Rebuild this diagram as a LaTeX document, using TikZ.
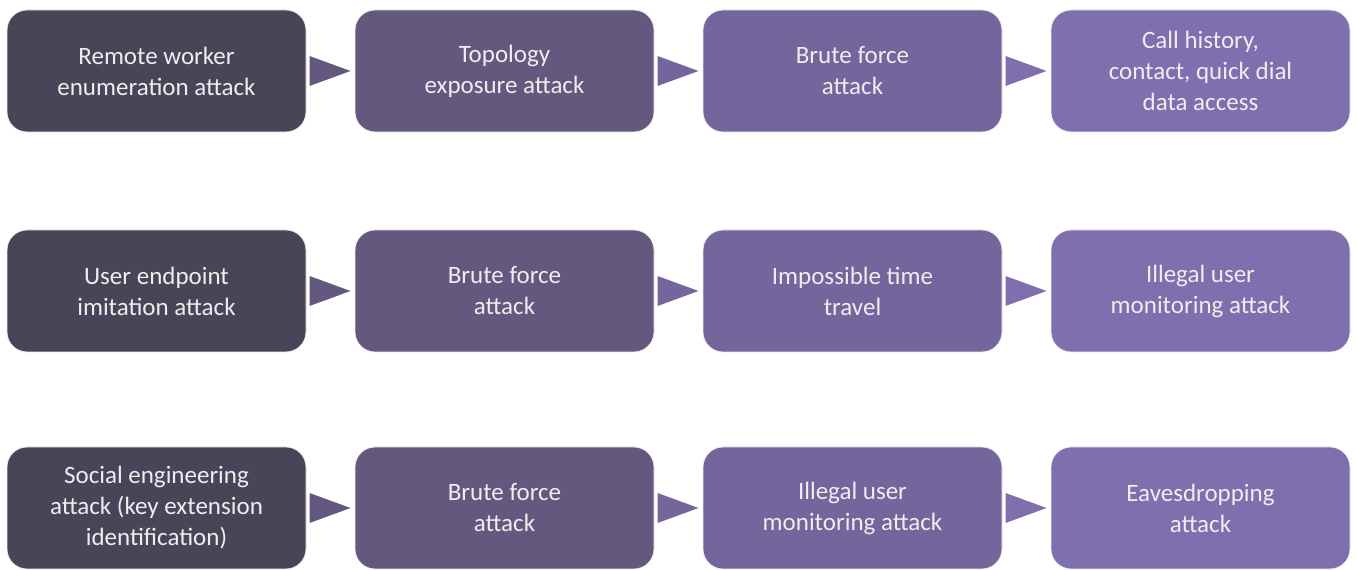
\documentclass[tikz,border=0pt]{standalone}
\usepackage{fontspec}
\setmainfont{Carlito}
\definecolor{cA}{HTML}{4A4458}
\definecolor{cB}{HTML}{65587F}
\definecolor{cC}{HTML}{74659C}
\definecolor{cD}{HTML}{7F6FAF}
\definecolor{txt}{HTML}{EEEEEE}
\tikzset{
  box/.style={rounded corners=20pt, minimum width=299pt, minimum height=122pt, inner sep=0pt,
    draw=white!85!gray, line width=0.8pt, text=txt, align=center,
    font=\fontsize{25}{31}\selectfont},
  tri/.style={draw=none}
}
\begin{document}
\begin{tikzpicture}[x=1pt,y=1pt]
\path[use as bounding box] (0,0) rectangle (1357,570);
% row 1
\node[box, fill=cA] (a1) at (156.5,499) {Remote worker\\enumeration attack};
\node[box, fill=cB] (b1) at (504.5,499) {Topology\\exposure attack};
\node[box, fill=cC] (c1) at (852.5,499) {Brute force\\attack};
\node[box, fill=cD] (d1) at (1200.5,499) {Call history,\\contact, quick dial\\data access};
% row 2
\node[box, fill=cA] (a2) at (156.5,279) {User endpoint\\imitation attack};
\node[box, fill=cB] (b2) at (504.5,279) {Brute force\\attack};
\node[box, fill=cC] (c2) at (852.5,279) {Impossible time\\travel};
\node[box, fill=cD] (d2) at (1200.5,279) {Illegal user\\monitoring attack};
% row 3
\node[box, fill=cA] (a3) at (156.5,62) {Social engineering\\attack (key extension\\identification)};
\node[box, fill=cB] (b3) at (504.5,62) {Brute force\\attack};
\node[box, fill=cC] (c3) at (852.5,62) {Illegal user\\monitoring attack};
\node[box, fill=cD] (d3) at (1200.5,62) {Eavesdropping\\attack};
% triangles
\foreach \r in {1,2,3}{
  \path (a\r.east) -- (b\r.west) coordinate[midway] (m1\r);
  \path (b\r.east) -- (c\r.west) coordinate[midway] (m2\r);
  \path (c\r.east) -- (d\r.west) coordinate[midway] (m3\r);
  \fill[cB, shift={(m1\r)}] (-21,-15) -- (20,0) -- (-21,15) -- cycle;
  \fill[cC, shift={(m2\r)}] (-21,-15) -- (20,0) -- (-21,15) -- cycle;
  \fill[cD, shift={(m3\r)}] (-21,-15) -- (20,0) -- (-21,15) -- cycle;
}
\end{tikzpicture}
\end{document}
